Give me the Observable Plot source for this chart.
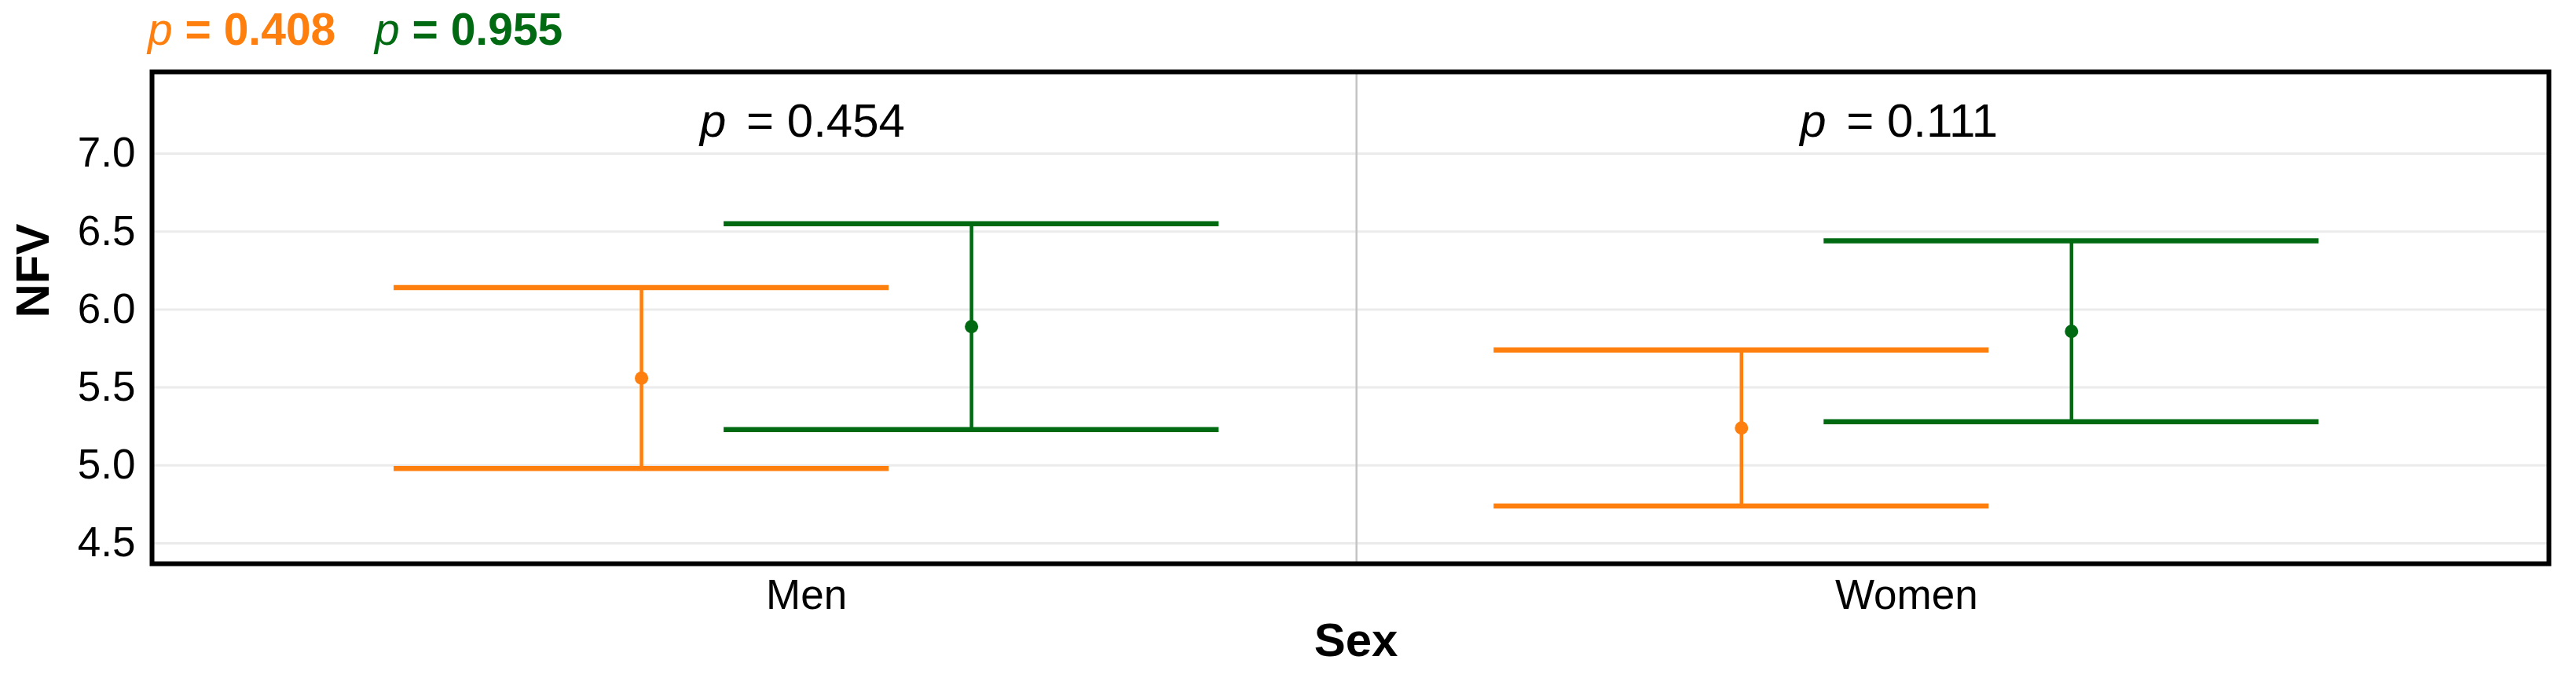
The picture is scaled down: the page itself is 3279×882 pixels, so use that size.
<!DOCTYPE html>
<html><head><meta charset="utf-8">
<script src="https://cdn.jsdelivr.net/npm/d3@7"></script>
<script src="https://cdn.jsdelivr.net/npm/@observablehq/plot@0.6"></script>
<style>
html,body{margin:0;padding:0;background:#fff;}
#chart{width:3279px;height:882px;}
svg{display:block;}
</style></head><body><div id="chart"></div>
<script>
// ---- data ----
const sexes = ["Men", "Women"];
const groups = ["Group 1", "Group 2"];
const groupColors = ["#ff7f0e", "#006a12"];
const group1Mean  = [5.56, 5.24];
const group1Lower = [4.98, 4.74];
const group1Upper = [6.14, 5.74];
const group2Mean  = [5.89, 5.86];
const group2Lower = [5.23, 5.28];
const group2Upper = [6.55, 6.44];
const sexPValues = ["0.454", "0.111"];
const groupPValues = ["0.408", "0.955"];
const yTicks = [4.5, 5.0, 5.5, 6.0, 6.5, 7.0];

// ---- layout / styling ----
const W = 3279, headerH = 70, plotH = 812;
const dodge = [-0.15, 0.15];
const capHalf = 0.225;
const font = "'Liberation Sans', Arial, Helvetica, sans-serif";

const rows = [];
[[group1Mean, group1Lower, group1Upper], [group2Mean, group2Lower, group2Upper]].forEach(([m, lo, hi], g) => {
  sexes.forEach((s, i) => rows.push({sex: s, group: groups[g], pos: i + 1 + dodge[g], mean: m[i], lower: lo[i], upper: hi[i]}));
});
const sexRows = sexes.map((s, i) => ({sex: s, pos: i + 1, p: sexPValues[i]}));

// header with group p-values
const header = d3.create("svg").attr("width", W).attr("height", headerH)
  .attr("font-family", font).attr("font-size", 57);
const headerX = [188, 477];
groupPValues.forEach((p, g) => {
  const t = header.append("text").attr("x", headerX[g]).attr("y", 57).attr("fill", groupColors[g]);
  t.append("tspan").attr("font-style", "italic").text("p");
  t.append("tspan").attr("font-weight", "bold").text(" = " + p);
});

const plot = Plot.plot({
  width: W,
  height: plotH,
  marginTop: 21,
  marginBottom: 165,
  marginLeft: 193,
  marginRight: 35,
  style: {fontFamily: font, fontSize: "53px", background: "white", color: "black"},
  x: {domain: [0.405, 2.584]},
  y: {domain: [4.369, 7.524]},
  color: {domain: groups, range: groupColors},
  marks: [
    Plot.gridY(yTicks, {stroke: "#ebebeb", strokeOpacity: 1, strokeWidth: 3}),
    Plot.ruleX([1.5], {stroke: "#c4c4c4", strokeWidth: 2.5}),
    Plot.ruleX(rows, {x: "pos", y1: "lower", y2: "upper", stroke: "group", strokeWidth: 4.5}),
    Plot.ruleY(rows, {y: "upper", x1: d => d.pos - capHalf, x2: d => d.pos + capHalf, stroke: "group", strokeWidth: 6.5}),
    Plot.ruleY(rows, {y: "lower", x1: d => d.pos - capHalf, x2: d => d.pos + capHalf, stroke: "group", strokeWidth: 6.5}),
    Plot.dot(rows, {x: "pos", y: "mean", fill: "group", r: 8.5}),
    Plot.text(sexRows, {x: "pos", text: () => "p", frameAnchor: "top", dy: 39.8, dx: -135.5, textAnchor: "start", fontStyle: "italic", fontSize: 60}),
    Plot.text(sexRows, {x: "pos", text: d => "= " + d.p, frameAnchor: "top", dy: 39.8, dx: -76.5, textAnchor: "start", fontSize: 60}),
    Plot.axisY(yTicks, {tickSize: 0, tickPadding: 21, fontSize: 53, tickFormat: d3.format(".1f"), label: null}),
    Plot.axisX([1, 2], {tickSize: 0, tickPadding: 20, fontSize: 53, tickFormat: d => sexes[d - 1], label: null}),
    Plot.text(["NFV"], {text: d => d, frameAnchor: "left", dx: -150.5, rotate: -90, fontWeight: "bold", fontSize: 60}),
    Plot.text(["Sex"], {text: d => d, frameAnchor: "bottom", dx: 7, dy: 117.8, fontWeight: "bold", fontSize: 60}),
    Plot.frame({stroke: "black", strokeWidth: 6})
  ]
});

const chart = document.getElementById("chart");
chart.appendChild(header.node());
chart.appendChild(plot);
</script></body></html>
